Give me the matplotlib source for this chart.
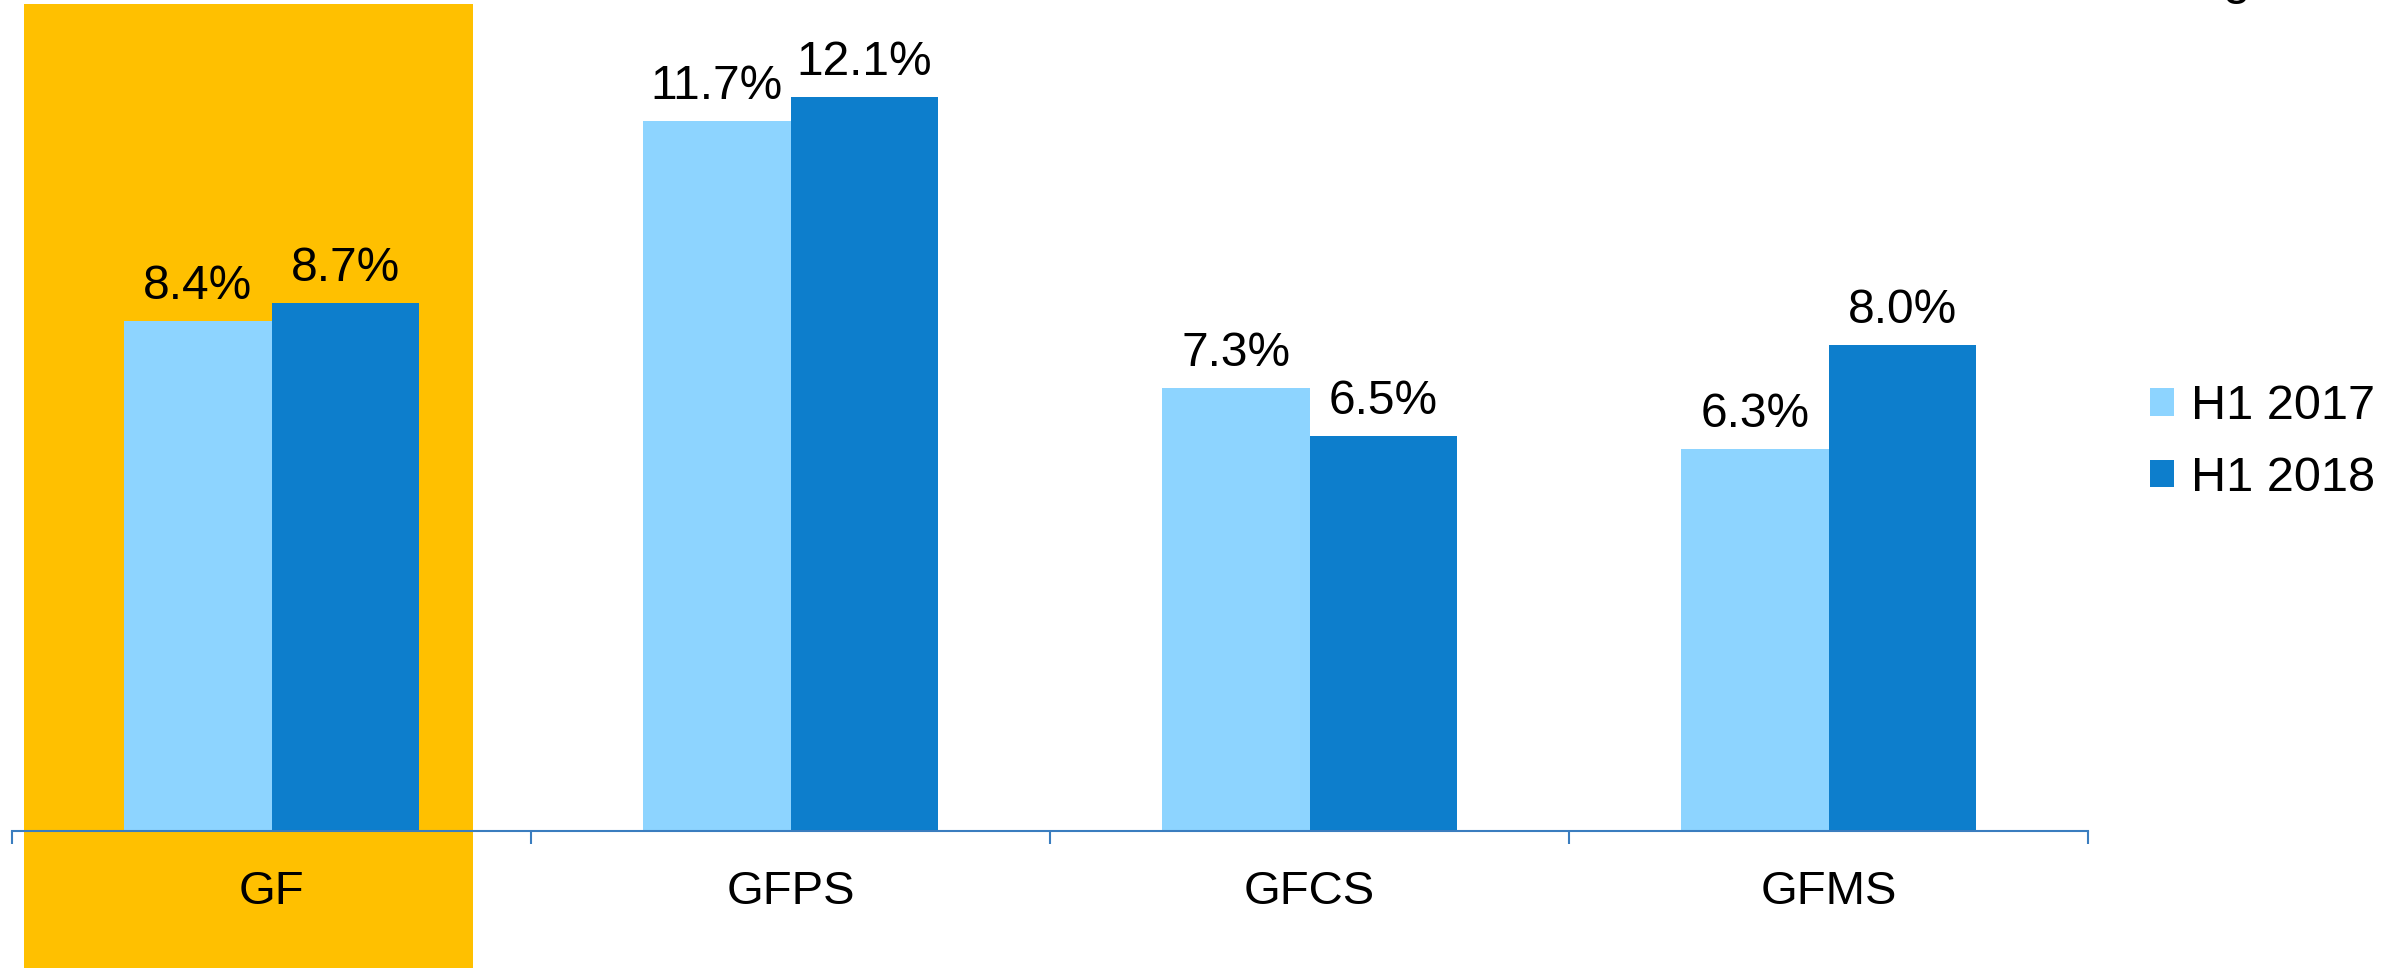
import matplotlib
matplotlib.use('Agg')
import matplotlib.pyplot as plt
import matplotlib.patches as patches
import numpy as np

plt.rcParams.update({
    'font.family': ['Liberation Sans', 'DejaVu Sans'],
    'font.size': 32,
})

categories = ['GF', 'GFPS', 'GFCS', 'GFMS']
h1_2017 = [8.4, 11.7, 7.3, 6.3]
h1_2018 = [8.7, 12.1, 6.5, 8.0]
series_names = ['H1 2017', 'H1 2018']

light = '#8DD4FF'
dark = '#0D7ECC'
axis_blue = '#3A7DBF'

fig = plt.figure(figsize=(24, 9.68), dpi=100)
ax = fig.add_axes([0.005, 0.0, 0.865, 1.0])

x = np.arange(len(categories))
w = 0.284

# highlight box behind GF
ax.add_patch(patches.Rectangle((-0.476, -3), 0.864, 16.62, facecolor='#FFC000',
                               edgecolor='none', zorder=0, clip_on=False))

b1 = ax.bar(x - w/2, h1_2017, w, color=light, label=series_names[0], zorder=2)
b2 = ax.bar(x + w/2, h1_2018, w, color=dark, label=series_names[1], zorder=2)

for bars, vals in ((b1, h1_2017), (b2, h1_2018)):
    for bar, v in zip(bars, vals):
        ax.annotate(f'{v:.1f}%', (bar.get_x() + bar.get_width()/2, v),
                    xytext=(0, 12), textcoords='offset pixels',
                    ha='center', va='bottom', fontsize=34.5, zorder=3)

ax.set_xlim(-0.5, 3.5)
ax.set_ylim(-2.257, 13.69)

for s in ['top', 'right', 'left']:
    ax.spines[s].set_visible(False)
ax.spines['bottom'].set_position(('data', 0))
ax.spines['bottom'].set_color(axis_blue)
ax.spines['bottom'].set_linewidth(1.5)
ax.spines['bottom'].set_zorder(4)
ax.set_yticks([])

ax.set_xticks(np.arange(-0.5, 4.0, 1.0))
ax.set_xticklabels([])
ax.tick_params(axis='x', which='major', direction='out', length=9, width=1.5, color=axis_blue)
ax.set_xticks(x, minor=True)
ax.set_xticklabels(categories, minor=True)
ax.tick_params(axis='x', which='minor', length=0, pad=28, labelsize=34)

fig.legend(handles=[b1, b2], labels=series_names, loc='center left',
           bbox_to_anchor=(0.8775, 0.543), frameon=False, fontsize=35,
           handlelength=0.5, handleheight=0.5, handletextpad=0.35,
           labelspacing=0.55)

# cut-off text at the top edge
fig.text(2237/2400, 1 + 6/968, 'g', ha='center', va='baseline', fontsize=36)

fig.savefig('out.png', dpi=100, facecolor='white')
